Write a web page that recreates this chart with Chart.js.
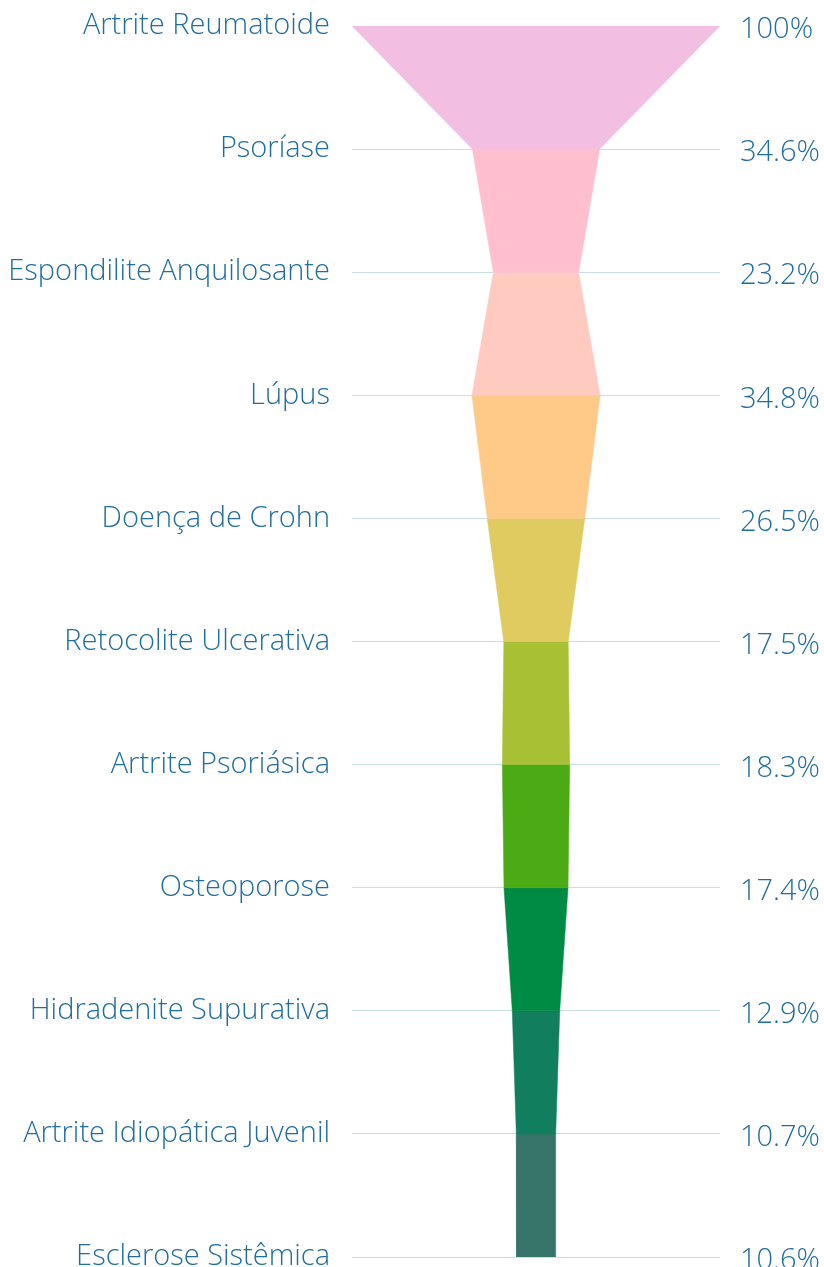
<!DOCTYPE html>
<html>
<head>
<meta charset="utf-8">
<script src="https://cdn.jsdelivr.net/npm/chart.js@4/dist/chart.umd.min.js"></script>
<style>
  html, body { margin: 0; padding: 0; background: #fff; }
  #wrap { width: 824px; height: 1267px; }
</style>
</head>
<body>
<div id="wrap"><canvas id="funnel"></canvas></div>
<script>
var categories = ['Artrite Reumatoide', 'Psoríase', 'Espondilite Anquilosante', 'Lúpus', 'Doença de Crohn',
    'Retocolite Ulcerativa', 'Artrite Psoriásica', 'Osteoporose', 'Hidradenite Supurativa',
    'Artrite Idiopática Juvenil', 'Esclerose Sistêmica']
var percents = [100, 34.6, 23.2, 34.8, 26.5, 17.5, 18.3, 17.4, 12.9, 10.7, 10.6]
var percentLabels = ['100%', '34.6%', '23.2%', '34.8%', '26.5%', '17.5%', '18.3%', '17.4%', '12.9%', '10.7%', '10.6%']
var segmentColors = ['#f2bfe3', '#ffbfcf', '#ffcac0', '#ffc987', '#e0cb60', '#a8c134', '#4caa14', '#008b45', '#117f5e', '#37756a']

var textColor = '#1f6e9e'
var font = { family: "'Open Sans', sans-serif", size: 29, weight: 300 }

// each band of the funnel is a closed shape between two levels
var datasets = []
for (var i = 0; i < segmentColors.length; i++) {
    var a = percents[i] / 2, b = percents[i + 1] / 2
    datasets.push({
        data: [{x: -a, y: i}, {x: -b, y: i + 1}, {x: b, y: i + 1}, {x: a, y: i}, {x: -a, y: i}],
        showLine: true,
        fill: 'shape',
        backgroundColor: segmentColors[i],
        borderColor: segmentColors[i],
        borderWidth: 0.5,
        pointRadius: 0,
        tension: 0
    })
}

function fixWidth(w) {
    return function (s) {
        s.width = w
        s.paddingTop = 0
        s.paddingBottom = 0
    }
}

var ctx = document.getElementById('funnel')

var chart_funnel = new Chart(ctx, {
    type: 'scatter',
    data: { datasets: datasets },
    options: {
        responsive: true,
        maintainAspectRatio: false,
        animation: false,
        layout: { padding: { top: 26, bottom: 10, left: 0, right: 0 } },
        plugins: { legend: { display: false }, tooltip: { enabled: false } },
        scales: {
            x: { type: 'linear', min: -50, max: 50, display: false },
            y: {
                type: 'linear', position: 'left', reverse: true, min: 0, max: 10,
                border: { display: false },
                grid: { color: '#c9dde9', lineWidth: 1, drawTicks: false },
                ticks: {
                    stepSize: 1, padding: 22, color: textColor, font: font,
                    callback: function (v) { return categories[v] }
                },
                afterFit: fixWidth(352)
            },
            y2: {
                type: 'linear', position: 'right', reverse: true, min: 0, max: 10,
                border: { display: false },
                grid: { display: false, drawTicks: false },
                ticks: {
                    stepSize: 1, padding: 20, labelOffset: 4, color: textColor, font: font,
                    callback: function (v) { return percentLabels[v] }
                },
                afterFit: fixWidth(104)
            }
        }
    }
})
</script>
</body>
</html>
